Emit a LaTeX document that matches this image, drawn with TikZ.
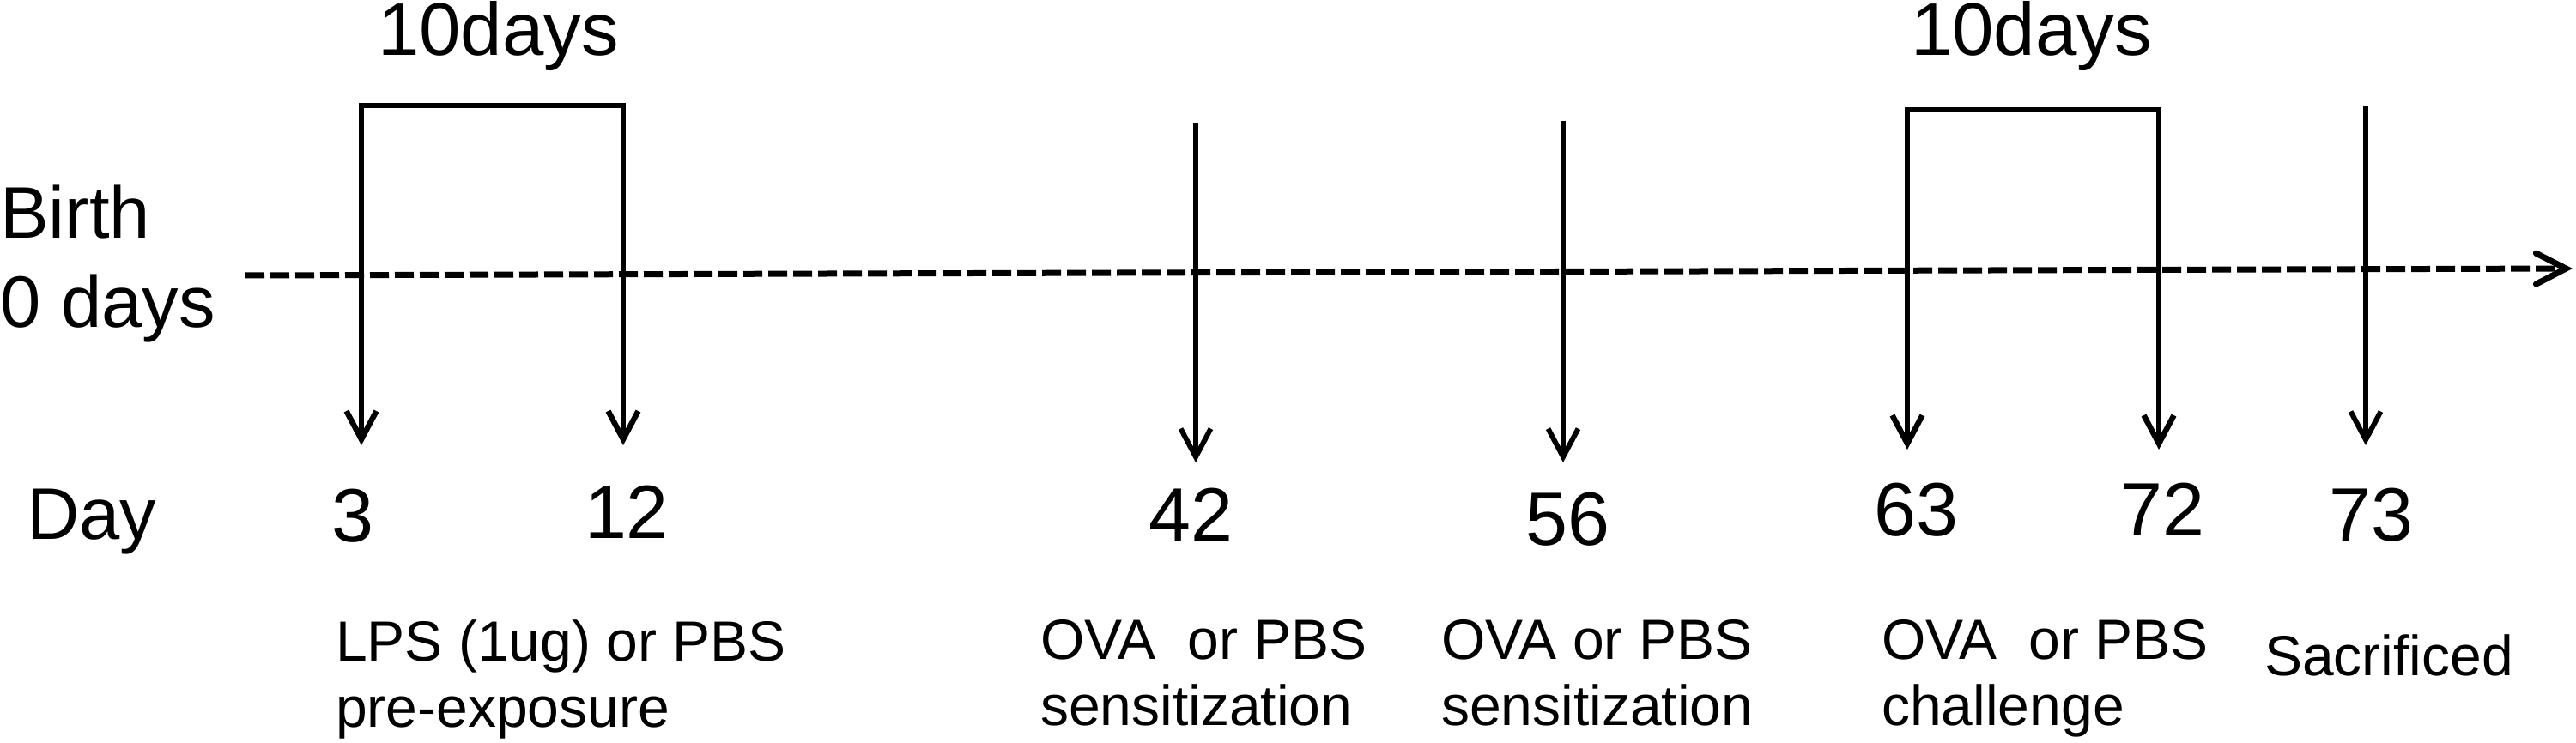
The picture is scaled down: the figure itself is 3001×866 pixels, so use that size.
\documentclass[tikz,border=0pt]{standalone}
\usepackage{fontspec}
\setmainfont{Liberation Sans}
\usetikzlibrary{arrows.meta}
\begin{document}
\begin{tikzpicture}[x=1pt,y=-1pt,
  side/.style={font=\fontsize{85}{100}\selectfont, inner sep=0pt, anchor=base west},
  num/.style={font=\fontsize{88}{100}\selectfont, inner sep=0pt, anchor=base},
  ten/.style={font=\fontsize{87}{100}\selectfont, inner sep=0pt, anchor=base west},
  lab/.style={font=\fontsize{66}{77}\selectfont, inner sep=0pt, anchor=base west, align=left},
  vtip/.style={line width=6pt, line join=miter, -{Straight Barb[length=33pt,width=35pt]}},
  brk/.style={line width=6.5pt, line join=miter, {Straight Barb[length=33pt,width=35pt]}-{Straight Barb[length=33pt,width=35pt]}},
  timeline/.style={line width=7pt, dash pattern=on 22pt off 7pt, -{Straight Barb[length=35pt,width=36pt,line cap=round]}}
]
\useasboundingbox (0,0) rectangle (3001,866);

% left side texts
\node[side] (birth) at (0,278) {Birth};
\node[side] (zero) at (0,382) {0 days};
\node[side] (day) at (31,628) {Day};

% timeline
\coordinate (tl0) at (286,321);
\coordinate (tl1) at (2997,313);
\draw[timeline] (tl0) -- (tl1);

% day numbers
\node[num] (d3) at (411,631) {3};
\node[num] (d12) at (730,627) {12};
\node[num] (d42) at (1387,630) {42};
\node[num] (d56) at (1826,635) {56};
\node[num] (d63) at (2232,624) {63};
\node[num] (d72) at (2519,624) {72};
\node[num] (d73) at (2762,630) {73};

% arrow coordinates
\coordinate (t3) at (421,123);
\coordinate (t12) at (726,123);
\coordinate (a3) at (421,519);
\coordinate (a12) at (726,519);
\coordinate (t42) at (1393,143);
\coordinate (a42) at (1393,539);
\coordinate (t56) at (1821,141);
\coordinate (a56) at (1821,539);
\coordinate (t63) at (2222,128);
\coordinate (t72) at (2515,128);
\coordinate (a63) at (2222,524);
\coordinate (a72) at (2515,524);
\coordinate (t73) at (2756,124);
\coordinate (a73) at (2756,519);

% brackets with arrows
\draw[brk] (a3) -- (t3) -- (t12) -- (a12);
\draw[brk] (a63) -- (t63) -- (t72) -- (a72);
\draw[vtip] (t42) -- (a42);
\draw[vtip] (t56) -- (a56);
\draw[vtip] (t73) -- (a73);

% 10 days labels
\node[ten] (ten1) at (440,65) {10days};
\node[ten] (ten2) at (2226,65) {10days};

% bottom labels (base anchor = baseline of last line)
\node[lab] (lps) at (391,847) {LPS (1ug) or PBS\\pre-exposure};
\node[lab] (ova1) at (1212,845) {OVA\ \ or PBS\\sensitization};
\node[lab] (ova2) at (1679,845) {OVA or PBS\\sensitization};
\node[lab] (ova3) at (2192,845) {OVA\ \ or PBS\\challenge};
\node[lab] (sac) at (2638,787) {Sacrificed};
\end{tikzpicture}
\end{document}
